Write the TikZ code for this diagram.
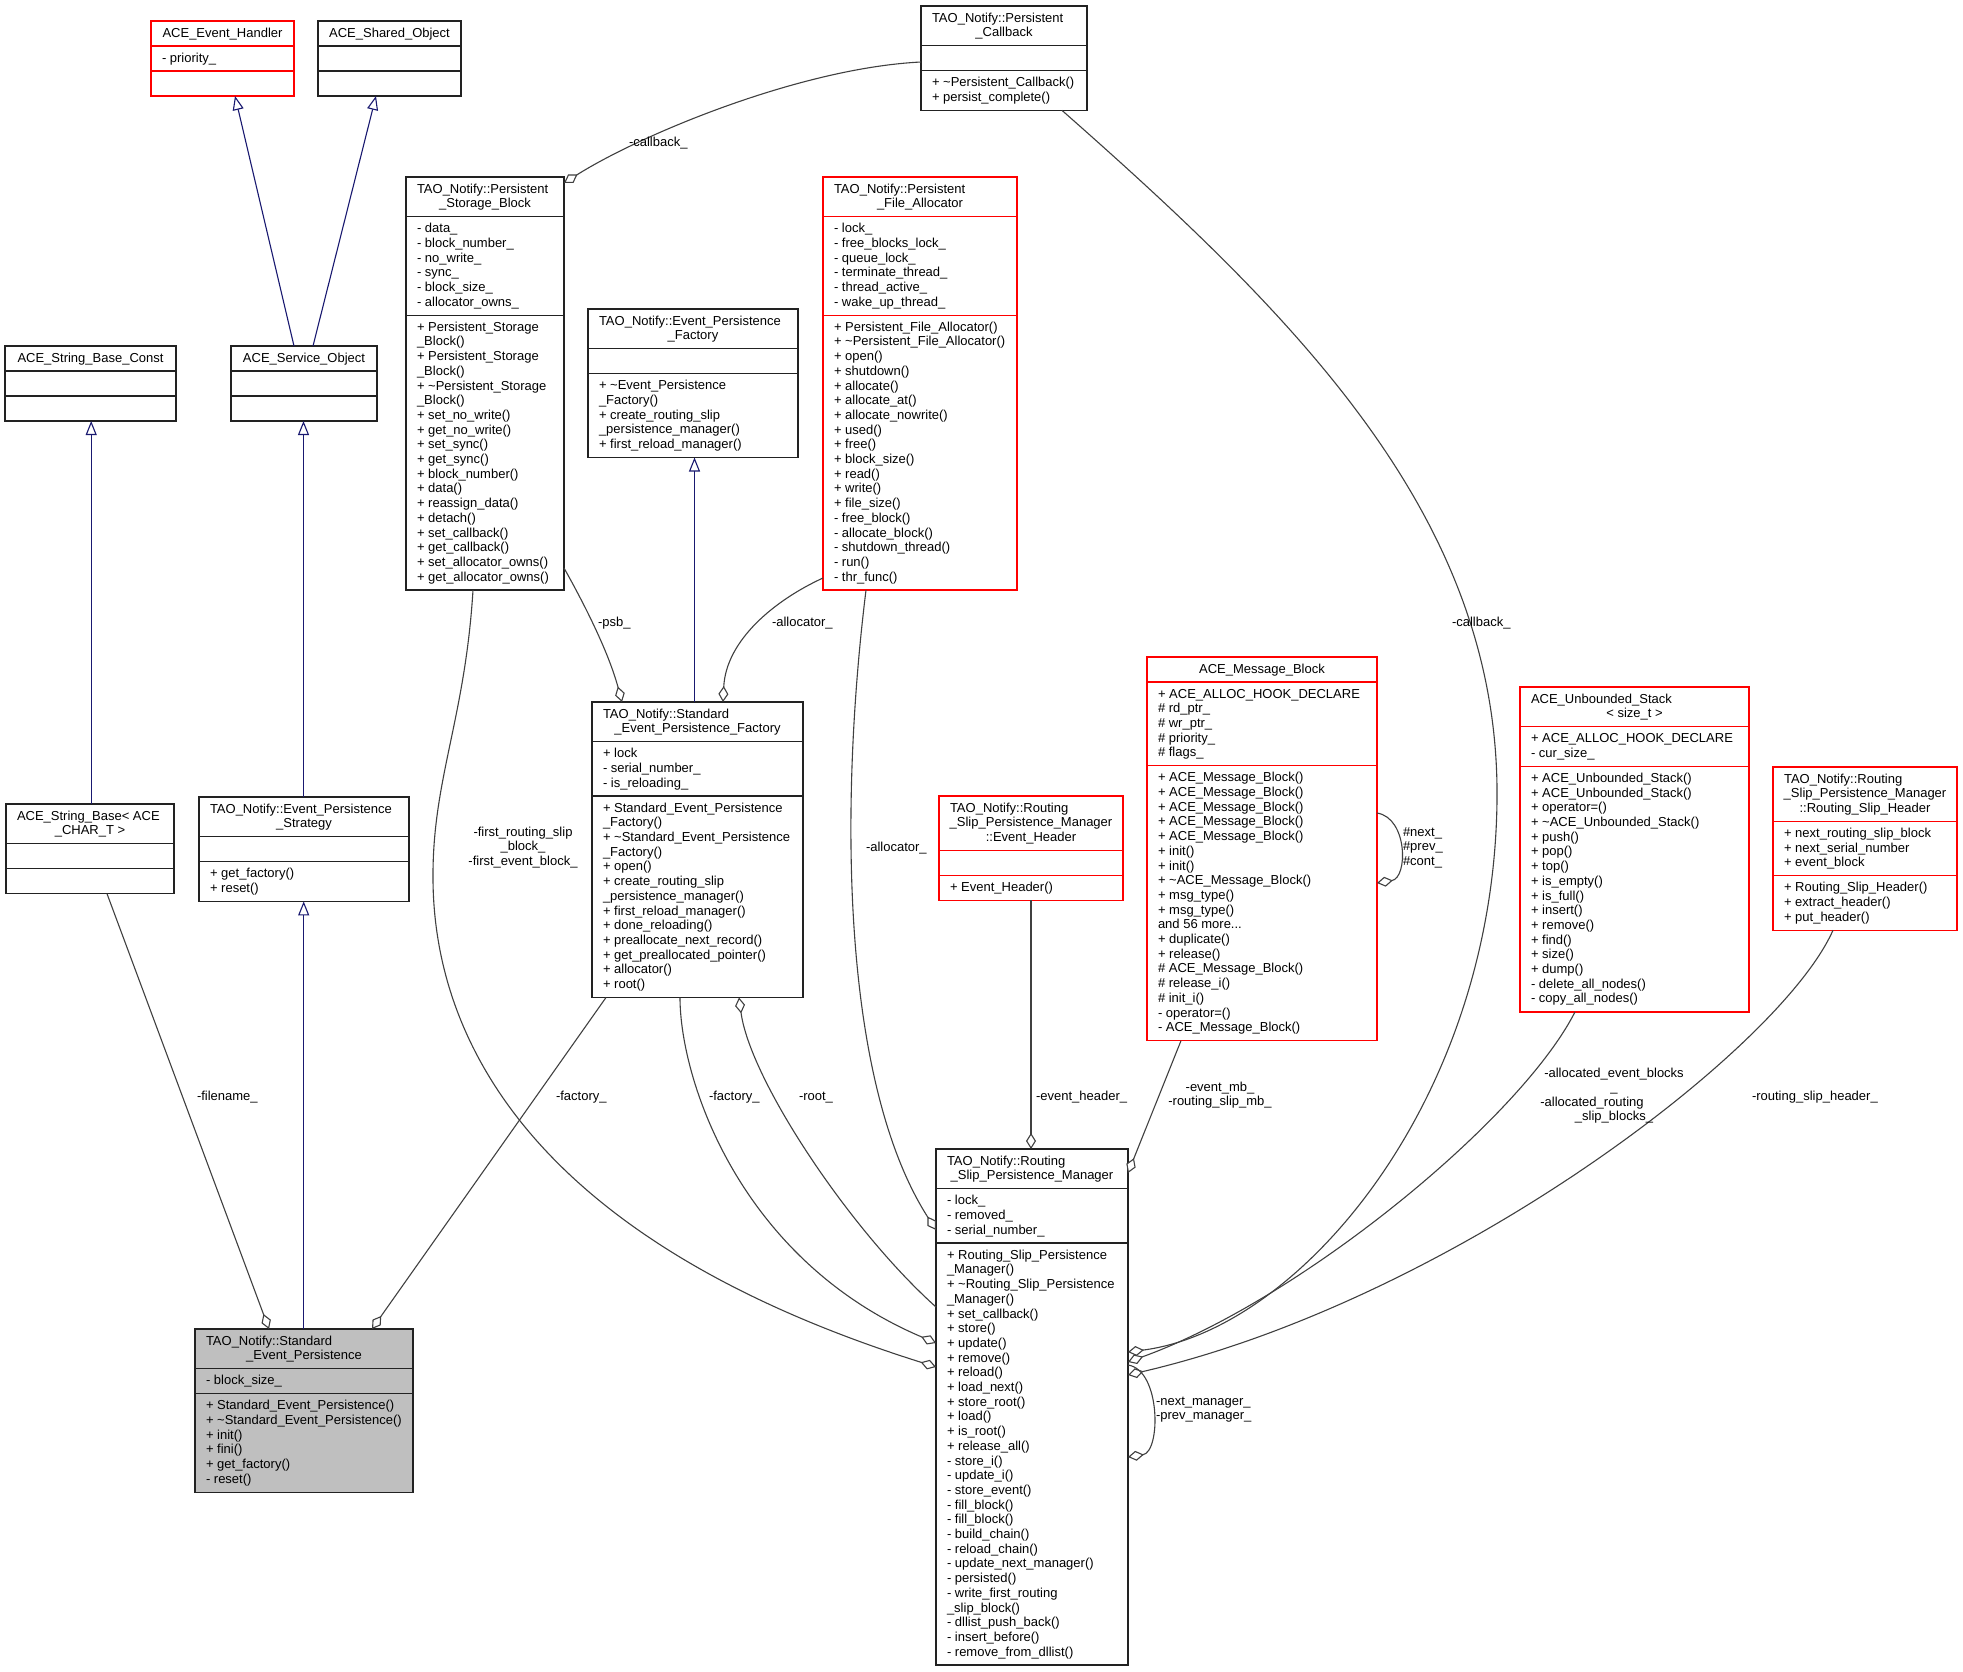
\documentclass[tikz,border=0pt]{standalone}
\usepackage{fontspec}
\setmainfont{Liberation Sans}
\usetikzlibrary{arrows.meta}
\definecolor{edgegray}{HTML}{404040}
\definecolor{inhblue}{HTML}{191970}
\definecolor{boxred}{HTML}{FF0000}
\definecolor{boxblk}{HTML}{222222}
\definecolor{selgray}{HTML}{BFBFBF}
\tikzset{
 txt/.style={inner sep=0pt, outer sep=0pt, font=\fontsize{13}{14.7}\selectfont, text=black},
 lbl/.style={inner sep=0pt, outer sep=0pt, font=\fontsize{13}{14.5}\selectfont, text=black},
 inh/.style={draw=inhblue, line width=1.1pt, -{Triangle[length=14pt, width=11pt, fill=white]}},
 agg/.style={draw=edgegray, line width=1.1pt, -{Diamond[length=16pt, width=10pt, fill=white]}},
}
% name, x, y, width, n1, n2, n3, border colour, fill colour
\newcommand\umlbox[9]{%
 \pgfmathsetmacro\ubA{#5*14.7+10.3}%
 \pgfmathsetmacro\ubB{\ubA+#6*14.7+10.3}%
 \pgfmathsetmacro\ubT{\ubB+#7*14.7+10.3}%
 \node[draw=#8, fill=#9, line width=1.3pt, inner sep=0pt, outer sep=0pt, minimum width=#4pt, minimum height=\ubT pt, anchor=north west] (#1) at (#2,#3) {};%
 \draw[#8, line width=1.3pt] ([yshift=-\ubA pt]#1.north west) -- ([yshift=-\ubA pt]#1.north east);%
 \draw[#8, line width=1.3pt] ([yshift=-\ubB pt]#1.north west) -- ([yshift=-\ubB pt]#1.north east);%
}
\newcommand\uttl[2]{\node[txt, anchor=north] (#1-t) at ([yshift=-5.8pt]#1.north) {\strut #2};}
\newcommand\uttll[3]{\node[txt, anchor=north west] (#1-t) at ([xshift=11pt,yshift=-5.8pt]#1.north west) {\strut #2};%
 \node[txt, anchor=north, align=center] (#1-u) at ([yshift=-20.5pt]#1.north) {\strut #3};}
% name, part id, k lines above, m section gaps above, text
\newcommand\usec[5]{%
 \pgfmathsetmacro\ubY{#3*14.7+#4*10.3+5.8}%
 \node[txt, anchor=north west, align=left] (#1-#2) at ([xshift=11pt,yshift=-\ubY pt]#1.north west) {\strut #5};}
\begin{document}
\begin{tikzpicture}[x=1pt,y=-1pt]
\useasboundingbox (0,0) rectangle (1963,1672);
\fill[white] (0,0) rectangle (1963,1672);

% ---------- classes ----------
\umlbox{evh}{151}{21}{143}{1}{1}{1}{boxred}{white}
\uttl{evh}{ACE\_Event\_Handler}
\usec{evh}{a}{1}{1}{- priority\_}

\umlbox{sho}{318}{21}{143}{1}{1}{1}{boxblk}{white}
\uttl{sho}{ACE\_Shared\_Object}

\umlbox{sbc}{5}{346}{171}{1}{1}{1}{boxblk}{white}
\uttl{sbc}{ACE\_String\_Base\_Const}

\umlbox{svc}{231}{346}{146}{1}{1}{1}{boxblk}{white}
\uttl{svc}{ACE\_Service\_Object}

\umlbox{sb}{6}{804}{168}{2}{1}{1}{boxblk}{white}
\uttll{sb}{ACE\_String\_Base< ACE}{\_CHAR\_T >}

\umlbox{eps}{199}{797}{210}{2}{1}{2}{boxblk}{white}
\uttll{eps}{TAO\_Notify::Event\_Persistence}{\_Strategy}
\usec{eps}{m}{3}{2}{+ get\_factory()\\+ reset()}

\umlbox{sep}{195}{1329}{218}{2}{1}{6}{boxblk}{selgray}
\uttll{sep}{TAO\_Notify::Standard}{\_Event\_Persistence}
\usec{sep}{a}{2}{1}{- block\_size\_}
\usec{sep}{m}{3}{2}{+ Standard\_Event\_Persistence()\\+ \textasciitilde Standard\_Event\_Persistence()\\+ init()\\+ fini()\\+ get\_factory()\\- reset()}

\umlbox{psb}{406}{177}{158}{2}{6}{18}{boxblk}{white}
\uttll{psb}{TAO\_Notify::Persistent}{\_Storage\_Block}
\usec{psb}{a}{2}{1}{- data\_\\- block\_number\_\\- no\_write\_\\- sync\_\\- block\_size\_\\- allocator\_owns\_}
\usec{psb}{m}{8}{2}{+ Persistent\_Storage\\\_Block()\\+ Persistent\_Storage\\\_Block()\\+ \textasciitilde Persistent\_Storage\\\_Block()\\+ set\_no\_write()\\+ get\_no\_write()\\+ set\_sync()\\+ get\_sync()\\+ block\_number()\\+ data()\\+ reassign\_data()\\+ detach()\\+ set\_callback()\\+ get\_callback()\\+ set\_allocator\_owns()\\+ get\_allocator\_owns()}

\umlbox{pcb}{921}{6}{166}{2}{1}{2}{boxblk}{white}
\uttll{pcb}{TAO\_Notify::Persistent}{\_Callback}
\usec{pcb}{m}{3}{2}{+ \textasciitilde Persistent\_Callback()\\+ persist\_complete()}

\umlbox{epf}{588}{309}{210}{2}{1}{5}{boxblk}{white}
\uttll{epf}{TAO\_Notify::Event\_Persistence}{\_Factory}
\usec{epf}{m}{3}{2}{+ \textasciitilde Event\_Persistence\\\_Factory()\\+ create\_routing\_slip\\\_persistence\_manager()\\+ first\_reload\_manager()}

\umlbox{pfa}{823}{177}{194}{2}{6}{18}{boxred}{white}
\uttll{pfa}{TAO\_Notify::Persistent}{\_File\_Allocator}
\usec{pfa}{a}{2}{1}{- lock\_\\- free\_blocks\_lock\_\\- queue\_lock\_\\- terminate\_thread\_\\- thread\_active\_\\- wake\_up\_thread\_}
\usec{pfa}{m}{8}{2}{+ Persistent\_File\_Allocator()\\+ \textasciitilde Persistent\_File\_Allocator()\\+ open()\\+ shutdown()\\+ allocate()\\+ allocate\_at()\\+ allocate\_nowrite()\\+ used()\\+ free()\\+ block\_size()\\+ read()\\+ write()\\+ file\_size()\\- free\_block()\\- allocate\_block()\\- shutdown\_thread()\\- run()\\- thr\_func()}

\umlbox{sepf}{592}{702}{211}{2}{3}{13}{boxblk}{white}
\uttll{sepf}{TAO\_Notify::Standard}{\_Event\_Persistence\_Factory}
\usec{sepf}{a}{2}{1}{+ lock\\- serial\_number\_\\- is\_reloading\_}
\usec{sepf}{m}{5}{2}{+ Standard\_Event\_Persistence\\\_Factory()\\+ \textasciitilde Standard\_Event\_Persistence\\\_Factory()\\+ open()\\+ create\_routing\_slip\\\_persistence\_manager()\\+ first\_reload\_manager()\\+ done\_reloading()\\+ preallocate\_next\_record()\\+ get\_preallocated\_pointer()\\+ allocator()\\+ root()}

\umlbox{evhdr}{939}{796}{184}{3}{1}{1}{boxred}{white}
\uttll{evhdr}{TAO\_Notify::Routing}{\_Slip\_Persistence\_Manager\\::Event\_Header}
\usec{evhdr}{m}{4}{2}{+ Event\_Header()}

\umlbox{mb}{1147}{657}{230}{1}{5}{18}{boxred}{white}
\uttl{mb}{ACE\_Message\_Block}
\usec{mb}{a}{1}{1}{+ ACE\_ALLOC\_HOOK\_DECLARE\\\# rd\_ptr\_\\\# wr\_ptr\_\\\# priority\_\\\# flags\_}
\usec{mb}{m}{6}{2}{+ ACE\_Message\_Block()\\+ ACE\_Message\_Block()\\+ ACE\_Message\_Block()\\+ ACE\_Message\_Block()\\+ ACE\_Message\_Block()\\+ init()\\+ init()\\+ \textasciitilde ACE\_Message\_Block()\\+ msg\_type()\\+ msg\_type()\\and 56 more...\\+ duplicate()\\+ release()\\\# ACE\_Message\_Block()\\\# release\_i()\\\# init\_i()\\- operator=()\\- ACE\_Message\_Block()}

\umlbox{ust}{1520}{687}{229}{2}{2}{16}{boxred}{white}
\uttll{ust}{ACE\_Unbounded\_Stack}{< size\_t >}
\usec{ust}{a}{2}{1}{+ ACE\_ALLOC\_HOOK\_DECLARE\\- cur\_size\_}
\usec{ust}{m}{4}{2}{+ ACE\_Unbounded\_Stack()\\+ ACE\_Unbounded\_Stack()\\+ operator=()\\+ \textasciitilde ACE\_Unbounded\_Stack()\\+ push()\\+ pop()\\+ top()\\+ is\_empty()\\+ is\_full()\\+ insert()\\+ remove()\\+ find()\\+ size()\\+ dump()\\- delete\_all\_nodes()\\- copy\_all\_nodes()}

\umlbox{rsh}{1773}{767}{184}{3}{3}{3}{boxred}{white}
\uttll{rsh}{TAO\_Notify::Routing}{\_Slip\_Persistence\_Manager\\::Routing\_Slip\_Header}
\usec{rsh}{a}{3}{1}{+ next\_routing\_slip\_block\\+ next\_serial\_number\\+ event\_block}
\usec{rsh}{m}{6}{2}{+ Routing\_Slip\_Header()\\+ extract\_header()\\+ put\_header()}

\umlbox{rspm}{936}{1149}{192}{2}{3}{28}{boxblk}{white}
\uttll{rspm}{TAO\_Notify::Routing}{\_Slip\_Persistence\_Manager}
\usec{rspm}{a}{2}{1}{- lock\_\\- removed\_\\- serial\_number\_}
\usec{rspm}{m}{5}{2}{+ Routing\_Slip\_Persistence\\\_Manager()\\+ \textasciitilde Routing\_Slip\_Persistence\\\_Manager()\\+ set\_callback()\\+ store()\\+ update()\\+ remove()\\+ reload()\\+ load\_next()\\+ store\_root()\\+ load()\\+ is\_root()\\+ release\_all()\\- store\_i()\\- update\_i()\\- store\_event()\\- fill\_block()\\- fill\_block()\\- build\_chain()\\- reload\_chain()\\- update\_next\_manager()\\- persisted()\\- write\_first\_routing\\\_slip\_block()\\- dllist\_push\_back()\\- insert\_before()\\- remove\_from\_dllist()}

% ---------- inheritance ----------
\draw[inh] ([xshift=63pt]svc.north west) -- ([xshift=84pt]evh.south west);
\draw[inh] ([xshift=82pt]svc.north west) -- ([xshift=58pt]sho.south west);
\draw[inh] ([xshift=85.2pt]sb.north west) -- ([xshift=86.2pt]sbc.south west);
\draw[inh] ([xshift=104.5pt]eps.north west) -- ([xshift=72.5pt]svc.south west);
\draw[inh] ([xshift=108.7pt]sep.north west) -- ([xshift=104.7pt]eps.south west);
\draw[inh] ([xshift=102.5pt]sepf.north west) -- ([xshift=106.5pt]epf.south west);

% ---------- aggregation ----------
\draw[agg] ([yshift=-56pt]pcb.north west) .. controls (800,68) and (640,135) .. ([yshift=-6pt]psb.north east);
\draw[agg] ([yshift=-391pt]psb.north east) .. controls (582,600) and (608,650) .. ([xshift=30pt]sepf.north west);
\draw[agg] ([yshift=-401pt]pfa.north west) .. controls (775,600) and (726,640) .. ([xshift=131pt]sepf.north west);
\draw[agg] ([xshift=14pt]sepf.south west) -- ([xshift=177pt]sep.north west);
\draw[agg] ([xshift=101pt]sb.south west) -- ([xshift=74pt]sep.north west);
\draw[agg] ([xshift=67pt]psb.south west) .. controls (465,720) and (432,780) .. (433,880) .. controls (434,1010) and (500,1230) .. ([yshift=-218pt]rspm.north west);
\draw[agg] ([xshift=88pt]sepf.south west) .. controls (680,1080) and (740,1260) .. ([yshift=-194pt]rspm.north west);
\draw[agg] ([yshift=-158pt]rspm.north west) .. controls (850,1230) and (750,1080) .. ([xshift=147pt]sepf.south west);
\draw[agg] ([xshift=43pt]pfa.south west) .. controls (840,800) and (840,1080) .. ([yshift=-81pt]rspm.north west);
\draw[agg] ([xshift=141pt]pcb.south west) .. controls (1300,320) and (1500,520) .. (1497,800) .. controls (1494,1100) and (1300,1330) .. ([yshift=-203pt]rspm.north east);
\draw[agg] ([xshift=55pt]ust.south west) .. controls (1520,1120) and (1300,1300) .. ([yshift=-213pt]rspm.north east);
\draw[agg] ([xshift=60pt]rsh.south west) .. controls (1780,1050) and (1450,1300) .. ([yshift=-226pt]rspm.north east);
\draw[agg] ([xshift=92pt]evhdr.south west) -- ([xshift=95pt]rspm.north west);
\draw[agg] ([xshift=34pt]mb.south west) -- ([yshift=-24pt]rspm.north east);
\draw[agg] ([yshift=-156pt]mb.north east) .. controls (1408,818) and (1408,878) .. ([yshift=-226pt]mb.north east);
\draw[agg] ([yshift=-216pt]rspm.north east) .. controls (1161,1370) and (1161,1452) .. ([yshift=-308pt]rspm.north east);

% ---------- labels ----------
\node[lbl, anchor=base west] (lcb1) at (629,147) {-callback\_};
\node[lbl, anchor=base west] (lpsb) at (598,626) {-psb\_};
\node[lbl, anchor=base west] (lal1) at (772,626) {-allocator\_};
\node[lbl, anchor=base west] (lfn) at (197,1100) {-filename\_};
\node[lbl, anchor=base west] (lfa1) at (556,1100) {-factory\_};
\node[lbl, anchor=base west] (lfa2) at (709,1100) {-factory\_};
\node[lbl, anchor=base west] (lroot) at (799,1100) {-root\_};
\node[lbl, anchor=base west] (leh) at (1036,1100) {-event\_header\_};
\node[lbl, anchor=base west] (lal2) at (866,851) {-allocator\_};
\node[lbl, anchor=base west] (lcb2) at (1452,626) {-callback\_};
\node[lbl, anchor=base west] (lrsh) at (1752,1100) {-routing\_slip\_header\_};
\node[lbl, anchor=north, align=center] (lfrs) at (523,826) {\strut -first\_routing\_slip\\\_block\_\\-first\_event\_block\_};
\node[lbl, anchor=north, align=center] (lmb) at (1220,1081) {\strut -event\_mb\_\\-routing\_slip\_mb\_};
\node[lbl, anchor=north west, align=left] (lnext) at (1403,826) {\strut \#next\_\\\#prev\_\\\#cont\_};
\node[lbl, anchor=north, align=center] (lalloc) at (1614,1067) {\strut -allocated\_event\_blocks\\\_\\-allocated\_routing\rule{44pt}{0pt}\\\_slip\_blocks\_};
\node[lbl, anchor=north west, align=left] (lmgr) at (1156,1395) {\strut -next\_manager\_\\-prev\_manager\_};
\end{tikzpicture}
\end{document}
